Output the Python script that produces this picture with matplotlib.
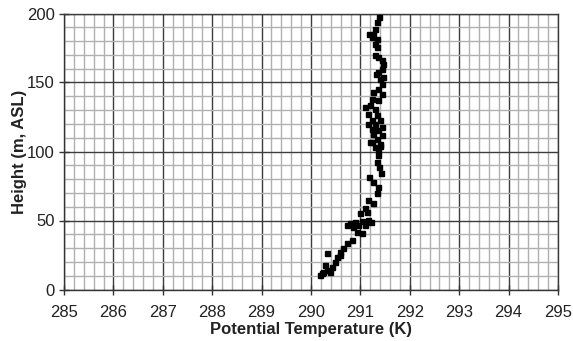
import matplotlib
matplotlib.use("Agg")
import matplotlib.pyplot as plt
import numpy as np

plt.rcParams['font.family'] = ['Liberation Sans', 'DejaVu Sans']

# Potential temperature (K)
theta = [
    291.38, 291.33, 291.30, 291.26, 291.23, 291.33, 291.30, 291.33, 291.30, 291.36,
    291.43, 291.46, 291.43, 291.36, 291.32, 291.46, 291.40, 291.43, 291.36, 291.26,
    291.43, 291.23, 291.36, 291.19, 291.30, 291.16, 291.33, 291.23, 291.40, 291.30,
    291.43, 291.23, 291.36, 291.26, 291.43, 291.33, 291.23, 291.40, 291.30,
    291.09, 291.18, 291.16, 291.19,
    291.40, 291.36, 291.35, 291.33, 291.38, 291.42, 291.17, 291.25, 291.35, 291.33,
    291.16, 291.26, 291.09, 291.13, 290.99, 290.89, 290.79, 291.03, 291.16, 290.96,
    291.09, 290.86, 291.03, 290.93, 290.82, 290.72, 290.65, 290.59, 290.32, 290.52,
    290.59, 290.49, 290.42, 290.28, 290.32, 290.22, 290.18, 290.38, 290.25,
    290.72, 291.22,
]
# Height (m, ASL)
height = [
    197.3, 193.7, 188.9, 185.3, 182.9, 181.7, 178.1, 175.6, 169.6, 168.4,
    166.0, 163.6, 160.0, 157.5, 156.4, 153.9, 152.8, 149.2, 145.5, 143.1,
    141.9, 138.3, 137.1, 133.5, 131.1, 127.5, 126.2, 122.6, 122.6, 120.2,
    117.8, 116.6, 115.4, 113.0, 111.8, 109.4, 106.9, 105.7, 103.3,
    132.2, 185.3, 120.2, 106.9,
    103.8, 100.9, 97.3, 92.4, 88.8, 84.1, 81.6, 78.0, 74.4, 69.6,
    64.7, 62.4, 58.7, 56.3, 55.1, 49.0, 47.9, 49.8, 50.3, 46.7,
    46.7, 45.4, 40.7, 41.8, 35.8, 33.4, 29.8, 27.3, 26.2, 23.7,
    25.0, 20.1, 16.5, 17.7, 14.1, 11.7, 10.5, 12.9, 12.9,
    46.7, 48.8,
]

x_ticks = [285, 286, 287, 288, 289, 290, 291, 292, 293, 294, 295]
y_ticks = [0, 50, 100, 150, 200]

fig = plt.figure(figsize=(5.73, 3.41), dpi=100)
ax = fig.add_axes([64/573, 1-289.5/341, (558-64)/573, (289.5-13.5)/341])

ax.set_xlim(285, 295)
ax.set_ylim(0, 200)
ax.set_xticks(x_ticks)
ax.set_yticks(y_ticks)
ax.set_xticks(np.arange(285, 295.01, 0.2), minor=True)
ax.set_yticks(np.arange(0, 200.01, 10), minor=True)
ax.grid(which='minor', color='#b0b0b0', linewidth=1.0, zorder=0)
ax.grid(which='major', color='#3c3c3c', linewidth=1.0, zorder=1)
ax.set_axisbelow(True)

ax.tick_params(which='minor', length=0)
ax.tick_params(which='major', direction='inout', length=7, width=1, color='#333333',
               labelsize=12, colors='#222222')
ax.tick_params(axis='x', pad=8)
ax.tick_params(axis='y', pad=3)

for s in ['top', 'right']:
    ax.spines[s].set_color('#3c3c3c')
    ax.spines[s].set_linewidth(1.0)
for s in ['left', 'bottom']:
    ax.spines[s].set_color('#333333')
    ax.spines[s].set_linewidth(1.0)

ax.plot(theta, height, linestyle='none', marker='s', markersize=3.6,
        color='black', zorder=3)

ax.set_xlabel('Potential Temperature (K)', fontsize=12, fontweight='bold',
              color='#222222', labelpad=1)
ax.yaxis.set_label_coords(-37/494, 0.5)
ax.set_ylabel('Height (m, ASL)', fontsize=12, fontweight='bold',
              color='#222222')

fig.savefig('out.png', dpi=100)
